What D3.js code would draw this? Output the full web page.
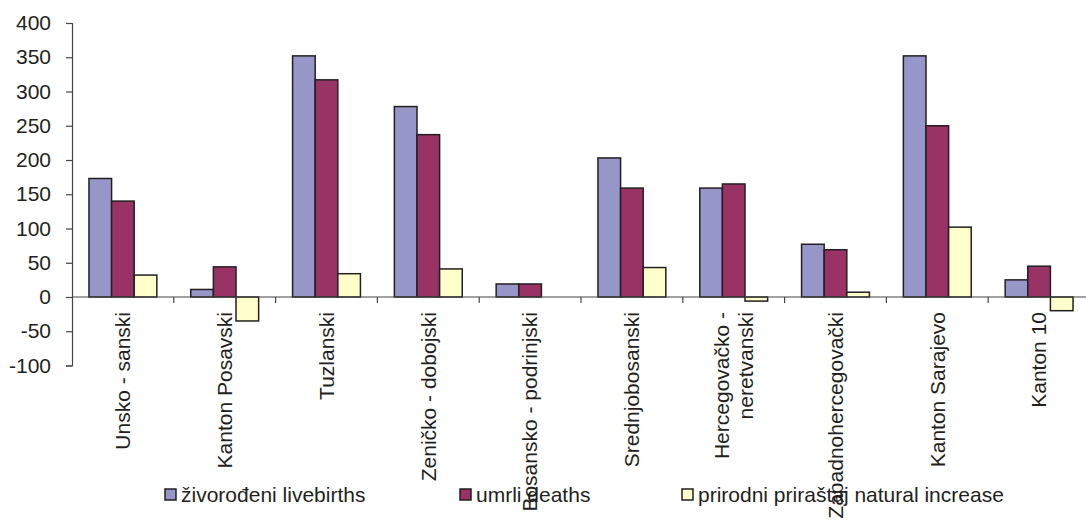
<!DOCTYPE html>
<html>
<head>
<meta charset="utf-8">
<script src="https://cdn.jsdelivr.net/npm/d3@7"></script>
<style>
  body { margin: 0; background: #fff; }
  text { font-family: "Liberation Sans", Arial, sans-serif; fill: #231f20; }
</style>
</head>
<body>
<script>
const categories = [
  ["Unsko - sanski"],
  ["Kanton Posavski"],
  ["Tuzlanski"],
  ["Zeničko - dobojski"],
  ["Bosansko - podrinjski"],
  ["Srednjobosanski"],
  ["Hercegovačko -", "neretvanski"],
  ["Zapadnohercegovački"],
  ["Kanton Sarajevo"],
  ["Kanton 10"]
];
const seriesNames = ["živorođeni livebirths", "umrli deaths", "prirodni priraštaj natural increase"];
const livebirths = [173, 11, 352, 278, 19, 203, 159, 77, 352, 25];
const deaths = [140, 44, 317, 237, 19, 159, 165, 69, 250, 45];
const naturalIncrease = [32, -35, 34, 41, 0, 43, -6, 7, 102, -20];
const yTicks = [-100, -50, 0, 50, 100, 150, 200, 250, 300, 350, 400];
const colors = ["#9696c9", "#993366", "#ffffcc"];

const width = 1086, height = 522;
const svg = d3.select("body").append("svg")
  .attr("width", width)
  .attr("height", height);

const keys = categories.map((d, i) => i);
const values = [livebirths, deaths, naturalIncrease];

const x = d3.scaleBand()
  .domain(keys)
  .range([72, 1090])
  .padding(0);

const x1 = d3.scaleBand()
  .domain(d3.range(3))
  .range([0, x.bandwidth()])
  .paddingInner(0)
  .paddingOuter(0.75);

const y = d3.scaleLinear()
  .domain([-100, 400])
  .range([365.5, 23]);

// y axis
const yAxis = svg.append("g")
  .attr("transform", "translate(72,0)")
  .call(d3.axisLeft(y).tickValues(yTicks).tickSize(6).tickPadding(15).tickFormat(d => String(d)));
yAxis.select(".domain").attr("stroke", "#444").attr("stroke-width", 1.2);
yAxis.selectAll(".tick line").attr("stroke", "#444").attr("stroke-width", 1.2);
yAxis.selectAll(".tick text")
  .style("font-size", "21px")
  .attr("fill", "#231f20");

// bars
const groups = svg.append("g").selectAll("g")
  .data(keys)
  .join("g")
    .attr("transform", d => `translate(${x(d)},0)`);

groups.selectAll("rect")
  .data(i => values.map((arr, s) => ({ s, v: arr[i] })))
  .join("rect")
    .attr("x", d => x1(d.s))
    .attr("width", x1.bandwidth())
    .attr("y", d => y(Math.max(0, d.v)))
    .attr("height", d => Math.abs(y(d.v) - y(0)))
    .attr("fill", d => colors[d.s])
    .attr("stroke", d => d.v === 0 ? "none" : "#231f20")
    .attr("stroke-width", 1.5);

// x axis at zero
const xAxis = svg.append("g")
  .attr("transform", `translate(0,${y(0)})`);
xAxis.append("line")
  .attr("x1", 72).attr("x2", 1090)
  .attr("stroke", "#444").attr("stroke-width", 1.2);
xAxis.selectAll(".xtick")
  .data(keys.slice(1))
  .join("line")
    .attr("class", "xtick")
    .attr("x1", d => x(d)).attr("x2", d => x(d))
    .attr("y1", 0).attr("y2", 6)
    .attr("stroke", "#444").attr("stroke-width", 1.2);

// category labels, rotated
svg.append("g").selectAll("text")
  .data(keys)
  .join("text")
    .attr("transform", d => `translate(${x(d) + x.bandwidth() / 2},312) rotate(-90)`)
    .attr("text-anchor", "end")
    .style("font-size", "21px")
    .each(function(d) {
      const lines = categories[d];
      const n = lines.length;
      lines.forEach((t, j) => {
        d3.select(this).append("tspan")
          .attr("x", 0)
          .attr("y", (j - (n - 1) / 2) * 24)
          .attr("dy", "0.35em")
          .text(t);
      });
    });

// legend
const legendX = [165, 460, 682];
const legend = svg.append("g");
seriesNames.forEach((name, i) => {
  legend.append("rect")
    .attr("x", legendX[i]).attr("y", 489)
    .attr("width", 11).attr("height", 11)
    .attr("fill", colors[i])
    .attr("stroke", "#231f20").attr("stroke-width", 1.5);
  legend.append("text")
    .attr("x", legendX[i] + 16).attr("y", 502)
    .style("font-size", "21px")
    .text(name);
});
</script>
</body>
</html>
